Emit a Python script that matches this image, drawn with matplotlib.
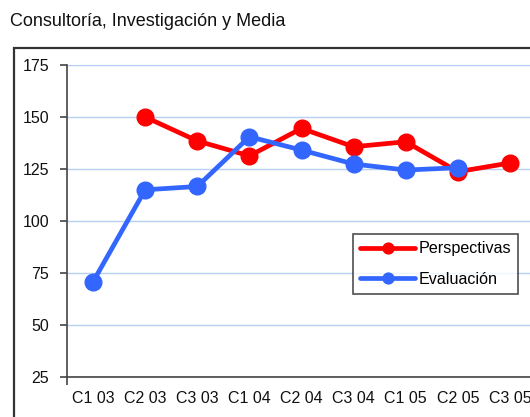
import matplotlib.pyplot as plt
from matplotlib.patches import Rectangle

plt.rcParams['font.family'] = ['Liberation Sans', 'DejaVu Sans']

trimestres = ['C1 03', 'C2 03', 'C3 03', 'C1 04', 'C2 04', 'C3 04', 'C1 05', 'C2 05', 'C3 05']
perspectivas = [None, 150, 138.5, 131.3, 144.5, 135.7, 138.1, 123.7, 127.9]
evaluacion = [70.8, 115, 116.6, 140.5, 134.1, 127.4, 124.5, 125.6, None]

rojo = '#ff0000'
azul = '#3366ff'


def serie(vals):
    xs = [i for i, v in enumerate(vals) if v is not None]
    ys = [v for v in vals if v is not None]
    return xs, ys


fig = plt.figure(figsize=(5.3, 4.17), dpi=100)
ax = fig.add_axes([67 / 530, 1 - 377 / 417, 469 / 530, 312 / 417])

# marco exterior del grafico (recortado por la derecha y por abajo)
fig.patches.append(Rectangle((14 / 530, -0.2), 1.2, 1 - 47.5 / 417 + 0.2,
                             transform=fig.transFigure, fill=False,
                             edgecolor='#333333', linewidth=1.6, clip_on=False))

fig.text(10 / 530, 1 - 22 / 417, 'Consultoría, Investigación y Media',
         fontsize=13, va='center', ha='left', color='#111111')

for valores, color, nombre in [(perspectivas, rojo, 'Perspectivas'),
                               (evaluacion, azul, 'Evaluación')]:
    xs, ys = serie(valores)
    ax.plot(xs, ys, color=color, linewidth=3.4, marker='o', markersize=12,
            label=nombre, solid_capstyle='round')

ax.set_xlim(-0.5, len(trimestres) - 0.5)
ax.set_ylim(25, 175)
ax.set_yticks([25, 50, 75, 100, 125, 150, 175])
ax.set_xticks(range(len(trimestres)))
ax.set_xticklabels(trimestres)
ax.set_xticks([-0.5], minor=True)
ax.tick_params(axis='x', which='major', length=0, pad=10, labelsize=11.5, colors='#111111')
ax.tick_params(axis='x', which='minor', length=6, width=1.2, color='#444444')
ax.tick_params(axis='y', length=5, width=1.2, pad=8, labelsize=11.5,
               color='#444444', labelcolor='#111111')

ax.grid(axis='y', color='#b5d0f2', linewidth=1)
ax.set_axisbelow(True)
for s in ['top', 'right']:
    ax.spines[s].set_visible(False)
for s in ['left', 'bottom']:
    ax.spines[s].set_color('#444444')
    ax.spines[s].set_linewidth(1.2)

leg = ax.legend(loc='upper left', bbox_to_anchor=((353 - 67) / 469, (377 - 234) / 312),
                fontsize=11.6, frameon=True, fancybox=False, handlelength=3.4,
                handletextpad=0.2, borderpad=0.45, labelspacing=0.95,
                borderaxespad=0, markerscale=0.65)
leg.get_frame().set_edgecolor('#222222')
leg.get_frame().set_linewidth(1.2)

fig.savefig('out.png', dpi=100)
